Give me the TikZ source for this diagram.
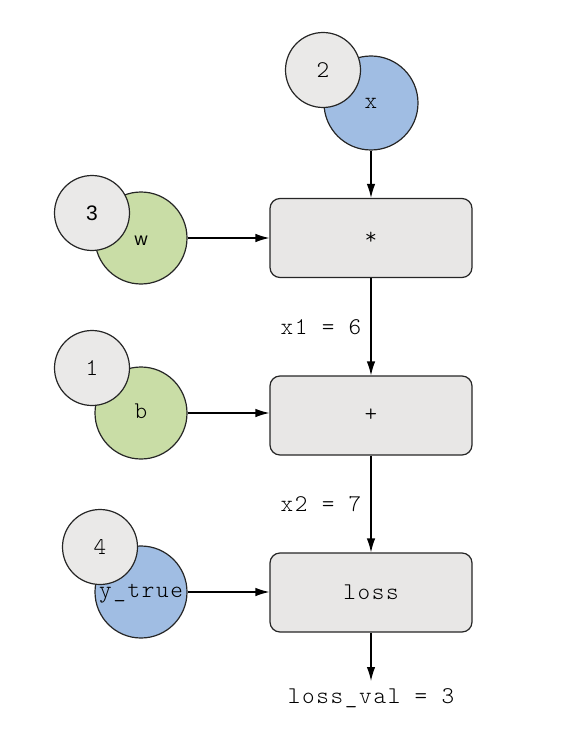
\documentclass[tikz,border=0pt]{standalone}
\usepackage{fontspec}
\setmainfont{Latin Modern Mono Light}[LetterSpace=7]
\newfontfamily\sansf{Liberation Sans}
\usetikzlibrary{arrows.meta}
\definecolor{boxgray}{HTML}{E8E7E6}
\definecolor{ballblue}{HTML}{A0BDE3}
\definecolor{ballgreen}{HTML}{C9DDA6}
\definecolor{ordgray}{HTML}{EAE9E8}
\tikzset{
  big/.style={font=\fontsize{24}{28}\selectfont},
  opbox/.style={draw=black!85, line width=1.2pt, fill=boxgray, rounded corners=10pt, minimum width=202pt, minimum height=79pt, big},
  ball/.style={circle, draw=black!85, line width=1.2pt, minimum size=92pt, inner sep=0pt, big},
  ord/.style={circle, draw=black!85, line width=1.2pt, fill=ordgray, minimum size=75pt, inner sep=0pt, big},
  arr/.style={line width=1.2pt, -{Latex[length=14pt,width=8.5pt]}},
  lbl/.style={big, inner sep=0pt}
}
\begin{document}
\begin{tikzpicture}[x=1pt,y=-1pt]
\useasboundingbox (0,0) rectangle (572,754);
% boxes
\node[opbox] (mul) at (371,238) {*};
\node[opbox] (add) at (371,415.5) {+};
\node[opbox] (loss) at (371,592.5) {loss};
% x
\node[ball, fill=ballblue, minimum size=94pt] (x) at (371,103) {};
\node[ord] (n2) at (323,70) {2};
\node[lbl] (xl) at (371,103) {x};
% w
\node[ball, fill=ballgreen] (w) at (141,238) {};
\node[ord] (n3) at (92,213) {\sansf\fontsize{21}{24}\selectfont 3};
\node[lbl, font=\sansf\fontsize{18}{21}\selectfont] (wl) at (141,241) {w};
% b
\node[ball, fill=ballgreen] (b) at (141,413) {};
\node[ord] (n1) at (92,368) {1};
\node[lbl] (bl) at (141,411) {b};
% y_true
\node[ball, fill=ballblue] (y) at (141,592) {};
\node[ord] (n4) at (100,547) {4};
\node[lbl] (yl) at (141,594) {y\_true};
% arrows
\draw[arr] (x) -- (mul);
\draw[arr] (w) -- (mul);
\draw[arr] (b.east) -- (b.east -| add.west);
\draw[arr] (y) -- (y -| loss.west);
\draw[arr] (mul) -- (add);
\draw[arr] (add) -- (loss);
\coordinate (lvend) at (371,681);
\draw[arr] (loss) -- (lvend);
% labels
\node[lbl] (x1) at (321,327) {x1 = 6};
\node[lbl] (x2) at (321,504) {x2 = 7};
\node[lbl] (lv) at (371,698) {loss\_val = 3};
\end{tikzpicture}
\end{document}
